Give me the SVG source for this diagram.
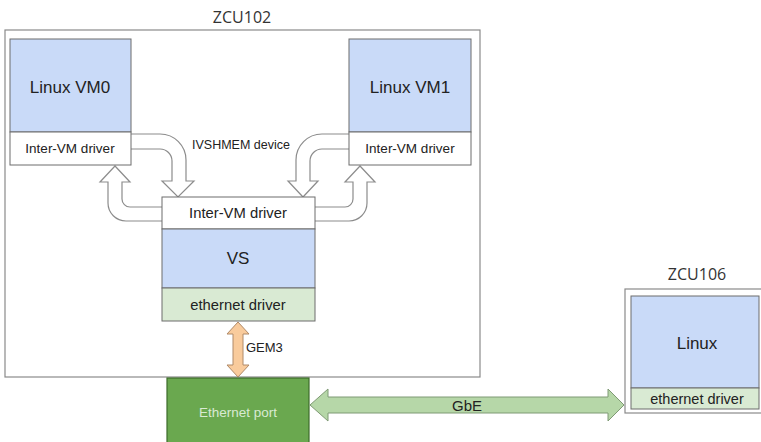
<svg xmlns="http://www.w3.org/2000/svg" width="761" height="442" viewBox="0 0 761 442">
<style>
.t{font-family:"Liberation Sans",Arial,sans-serif;fill:#222;text-anchor:middle}
.ttl{font-family:"Open Sans","Noto Sans",sans-serif;fill:#333;text-anchor:middle;font-size:16px}
.board{fill:#fff;stroke:#8a8a8a;stroke-width:1.2}
.blue{fill:#c9daf8;stroke:#6d6d6d;stroke-width:1}
.white{fill:#fff;stroke:#6d6d6d;stroke-width:1}
.lgreen{fill:#d9ead3;stroke:#6d6d6d;stroke-width:1}
.bend{fill:#fff;stroke:#8c8c8c;stroke-width:1.2;stroke-linejoin:miter}
</style>
<rect width="761" height="442" fill="#fff"/>

<g id="zcu102">
<rect class="board" x="5" y="30" width="475" height="347"/>
<text class="ttl" x="242" y="23">ZCU102</text>
</g>

<g id="zcu106">
<rect class="board" x="625" y="289" width="145" height="124"/>
<text class="ttl" x="697" y="280">ZCU106</text>
</g>

<g id="connectors">
<path class="bend" d="M131,134 H160 A26,26 0 0 1 186,160 V181 H194 L178,197 L162,181 H172 V161 A12,12 0 0 0 160,149 H131"/>
<path class="bend" d="M162,207 H130 A8,8 0 0 1 122,199 V182 H130 L115,166 L100,182 H108 V203 A18,18 0 0 0 126,221 H162"/>
<path class="bend" d="M349,134 H322 A26,26 0 0 0 296,160 V181 H288 L303,197 L318,181 H310 V161 A12,12 0 0 1 322,149 H349"/>
<path class="bend" d="M315,207 H345 A8,8 0 0 0 353,199 V182 H345 L360,166 L375,182 H367 V203 A18,18 0 0 1 349,221 H315"/>
<text class="t" x="241" y="149" font-size="12.5">IVSHMEM device</text>
<path d="M238,322 L249,334 H243 V365 H249 L238,377 L227,365 H233 V334 H227 Z" fill="#f9cb9c" stroke="#b08a68" stroke-width="1"/>
<text class="t" x="246" y="352" font-size="13" text-anchor="start" style="text-anchor:start">GEM3</text>
<path d="M310,405 L328,389 V397 H608 V389 L624,405 L608,421 V413 H328 V421 Z" fill="#b6d7a8" stroke="#7f9a74" stroke-width="1"/>
<text class="t" x="467" y="411" font-size="15">GbE</text>
</g>

<g id="vm0">
<rect class="blue" x="10" y="39" width="121" height="93"/>
<rect class="white" x="10" y="132" width="121" height="33"/>
<text class="t" x="70" y="93" font-size="17">Linux VM0</text>
<text class="t" x="70" y="153" font-size="13.5">Inter-VM driver</text>
</g>

<g id="vm1">
<rect class="blue" x="349" y="39" width="122" height="93"/>
<rect class="white" x="349" y="132" width="122" height="33"/>
<text class="t" x="410" y="93" font-size="17">Linux VM1</text>
<text class="t" x="410" y="153" font-size="13.5">Inter-VM driver</text>
</g>

<g id="vs">
<rect class="white" x="162" y="197" width="153" height="32"/>
<rect class="blue" x="162" y="229" width="153" height="59"/>
<rect class="lgreen" x="162" y="288" width="153" height="33"/>
<text class="t" x="238" y="218" font-size="14.8">Inter-VM driver</text>
<text class="t" x="238" y="264" font-size="17">VS</text>
<text class="t" x="238" y="310" font-size="14.8">ethernet driver</text>
</g>

<g id="ethernet-port">
<rect x="167" y="378" width="142" height="70" fill="#6aa84f" stroke="#3d6b2a" stroke-width="1.2"/>
<text class="t" x="238" y="417" font-size="13.5" style="fill:#d9ead3">Ethernet port</text>
</g>

<g id="linux">
<rect class="blue" x="631" y="296" width="128" height="92"/>
<rect class="lgreen" x="631" y="388" width="128" height="21"/>
<text class="t" x="697" y="349" font-size="17">Linux</text>
<text class="t" x="697" y="404" font-size="14.5">ethernet driver</text>
</g>
</svg>
